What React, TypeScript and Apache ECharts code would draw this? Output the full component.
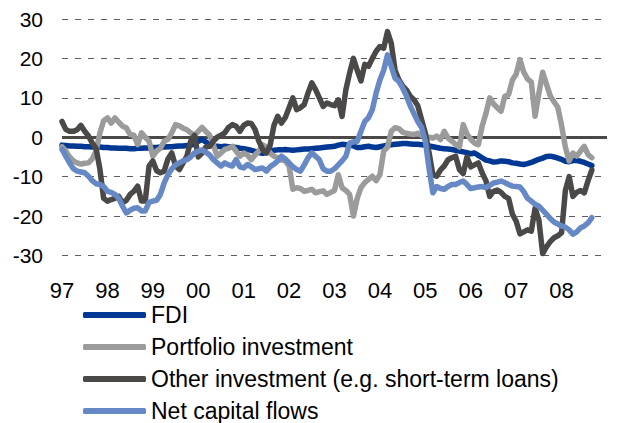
import React, { useEffect, useRef } from "react";
import * as echarts from "echarts";

const startYear = 1997;
const xTickLabels = ["97", "98", "99", "00", "01", "02", "03", "04", "05", "06", "07", "08"];
const yTicks = [-30, -20, -10, 0, 10, 20, 30];
const seriesNames = [
  "FDI",
  "Portfolio investment",
  "Other investment (e.g. short-term loans)",
  "Net capital flows",
];

// Monthly values, Jan 1997 – Sep 2008
const fdi = [
  -2.0, -2.1, -2.2, -2.2, -2.3, -2.3, -2.4, -2.4, -2.5, -2.5, -2.5, -2.6,
  -2.6, -2.7, -2.7, -2.8, -2.8, -2.8, -2.9, -2.9, -2.8, -2.8, -2.7, -2.7,
  -2.6, -2.6, -2.5, -2.5, -2.4, -2.4, -2.3, -2.2, -2.2, -2.1, -2.0, -1.8,
  -1.0, -0.5, -1.2, -2.0, -2.2, -2.3, -2.4, -2.3, -2.4, -2.5, -2.6, -2.8,
  -2.9, -3.1, -3.3, -3.6, -3.9, -4.1, -3.8, -3.5, -3.3, -3.2, -3.2, -3.1,
  -3.2, -3.3, -3.2, -3.1, -3.0, -3.0, -2.9, -2.8, -2.7, -2.6, -2.5, -2.4,
  -2.3, -2.0, -1.8, -1.9, -2.0, -2.2, -2.6, -2.6, -2.4, -2.3, -2.5, -2.6,
  -2.4, -2.2, -2.0, -1.9, -1.8, -1.7, -1.6, -1.6, -1.7, -1.8, -1.8, -1.9,
  -2.0, -2.2, -2.4, -2.6, -2.8, -2.9, -3.0, -3.1, -3.3, -3.5, -3.7, -3.9,
  -4.2, -4.0, -4.6, -5.2, -5.8, -6.0, -6.3, -6.2, -6.0, -6.1, -6.2, -6.5,
  -6.6, -6.8, -6.9, -6.7, -6.4, -6.0, -5.6, -5.3, -4.9, -4.8, -5.0, -5.3,
  -5.6, -6.1, -6.2, -5.9, -5.9, -6.1, -6.4, -6.8, -7.2,
];

const portfolio = [
  -2.4, -3.5, -5.0, -6.0, -6.5, -6.8, -6.6, -6.5, -5.5, -3.5, 1.0, 4.2,
  4.9, 3.6, 4.9, 3.8, 2.8, 2.4, 0.7, 0.5, -1.9, 1.1, 0.0, -1.0,
  -4.8, -3.5, -2.8, -1.0, -0.5, 1.1, 3.2, 2.9, 2.3, 1.9, 1.1, 0.5,
  1.5, 2.5, 1.5, 0.5, -2.0, -4.8, -4.0, -3.1, -2.8, -2.3, -3.5, -4.8,
  -4.0, -4.5, -5.7, -4.5, -3.5, -1.9, -2.5, -4.0, -4.8, -5.2, -5.8, -6.0,
  -7.3, -13.2, -12.8, -13.0, -13.7, -13.5, -13.2, -14.1, -13.8, -13.6, -14.5, -14.0,
  -13.5, -9.5, -12.8, -13.5, -14.5, -20.0, -15.5, -12.8, -11.5, -10.7, -9.9, -11.0,
  -9.5, -3.5, -2.5, 1.5, 2.4, 2.2, 1.3, 1.0, 0.8, 0.7, 1.0, 0.5,
  0.3, 0.0, -0.2, 0.3, -0.6, 1.5, -0.2, -1.0, -1.8, -2.5, 3.2, 0.8,
  -0.5, -1.5, -1.9, 2.8, 6.0, 10.0, 8.5, 7.5, 6.6, 10.4, 10.8, 14.5,
  16.0, 19.7, 16.5, 14.8, 14.0, 5.3, 11.2, 16.5, 13.5, 10.5, 9.0, 7.6,
  3.0, -2.5, -6.0, -4.0, -4.8, -3.5, -2.3, -4.4, -5.2,
];

const other = [
  4.0, 2.0, 1.5, 1.5, 1.9, 3.0, 1.5, 0.3, -1.5, -2.8, -8.0, -15.5,
  -16.2, -15.8, -15.5, -15.0, -16.6, -16.0, -14.5, -13.7, -12.4, -16.2, -16.2, -7.3,
  -6.0, -8.5, -9.0, -8.6, -5.5, -4.0, -7.3, -8.2, -6.5, -4.8, -1.0, 0.5,
  -5.0, -4.0, -2.5, -2.3, -1.0, 0.0, 0.5, 1.1, 2.5, 3.2, 2.8, 1.5,
  3.0, 3.6, 3.5, 2.0, -1.0, -3.1, -4.0, -2.0, 3.0, 5.3, 3.6, 5.0,
  7.5, 10.0, 7.0, 7.5, 8.3, 11.2, 13.8, 12.1, 10.0, 7.8, 8.7, 8.3,
  8.0, 9.5, 5.3, 12.0, 16.3, 20.0, 17.0, 14.3, 18.5, 18.0, 20.0, 21.8,
  23.0, 22.6, 26.8, 23.8, 17.0, 14.6, 13.0, 12.0, 10.4, 9.5, 8.0, 4.5,
  1.0, -4.0, -9.5, -9.9, -8.3, -7.3, -5.7, -5.2, -4.8, -8.2, -9.2, -5.0,
  -7.5, -7.0, -6.5, -9.0, -11.0, -15.0, -13.7, -13.4, -14.0, -15.0, -15.5, -19.5,
  -21.3, -24.5, -24.0, -23.5, -23.8, -18.0, -21.0, -29.5, -27.8, -26.5, -25.5, -25.0,
  -24.2, -13.5, -10.0, -15.0, -14.0, -13.5, -14.1, -11.0, -8.3,
];

const netFlows = [
  -3.1, -4.8, -6.5, -8.0, -8.6, -8.8, -9.0, -9.9, -11.0, -11.8, -12.0, -12.5,
  -13.7, -14.0, -14.5, -15.5, -17.5, -19.2, -18.5, -18.0, -17.9, -18.7, -18.7, -16.5,
  -16.2, -16.0, -14.5, -11.6, -9.5, -8.0, -7.0, -6.5, -6.0, -5.7, -5.0, -4.0,
  -3.5, -3.2, -3.8, -4.5, -5.7, -6.5, -7.3, -6.5, -7.0, -7.3, -5.7, -7.5,
  -7.8, -6.9, -7.5, -8.2, -8.0, -7.8, -8.6, -7.5, -6.8, -6.0, -4.8, -5.5,
  -6.5, -7.5, -8.2, -8.6, -7.0, -5.2, -4.0, -4.8, -5.7, -8.0, -8.6, -8.6,
  -8.0, -7.0, -6.0, -4.8, -1.5, -1.2, -1.0, 1.5, 4.0, 5.0, 7.0, 11.2,
  14.5, 17.0, 20.9, 18.0, 15.0, 14.2, 12.5, 10.5, 8.0, 6.0, 4.0, 2.5,
  -1.0, -8.0, -14.1, -12.5, -13.0, -13.2, -12.5, -12.0, -12.0, -11.5, -11.1, -12.0,
  -13.0, -12.8, -12.6, -12.5, -12.8, -12.2, -11.6, -11.4, -11.1, -11.5, -12.0, -12.4,
  -12.5, -12.6, -13.8, -15.5, -16.2, -17.0, -17.5, -18.5, -19.5, -20.6, -21.5, -22.0,
  -22.5, -22.8, -23.5, -24.6, -24.0, -23.0, -22.5, -21.7, -20.4,
];

const colors = ["#003893", "#9b9b9b", "#4b4848", "#6689c5"];
const FONT = "'Liberation Sans', Arial, Helvetica, sans-serif";

function toPairs(values: number[]) {
  return values.map((v, i) => [startYear + i / 12, v]);
}

export default function App() {
  const ref = useRef<HTMLDivElement>(null);

  useEffect(() => {
    if (!ref.current) return;
    const chart = echarts.init(ref.current, null, { renderer: "svg" });
    const all = [fdi, portfolio, other, netFlows];
    chart.setOption({
      animation: false,
      backgroundColor: "#ffffff",
      textStyle: { fontFamily: FONT },
      grid: { left: 62, right: 11, top: 19, height: 236.5, containLabel: false },
      legend: seriesNames.map((name, i) => ({
        orient: "vertical",
        left: 83,
        top: 302 + i * 32,
        padding: 0,
        itemWidth: 63,
        itemHeight: 6,
        icon: "roundRect",
        data: [name],
        textStyle: { fontSize: 23, lineHeight: 26, color: "#000", fontFamily: FONT },
      })),
      xAxis: {
        type: "value",
        min: startYear,
        max: startYear + xTickLabels.length,
        interval: 1,
        axisLine: { show: false },
        axisTick: { show: false },
        splitLine: { show: false },
        axisLabel: {
          showMaxLabel: false,
          fontSize: 22,
          color: "#000",
          margin: 24,
          fontFamily: FONT,
          formatter: (v: number) => xTickLabels[Math.round(v) - startYear] ?? "",
        },
      },
      yAxis: {
        type: "value",
        min: yTicks[0],
        max: yTicks[yTicks.length - 1],
        interval: 10,
        axisLine: { show: false },
        axisTick: { show: false },
        axisLabel: { fontSize: 21, color: "#000", margin: 19, fontFamily: FONT },
        splitLine: { show: true, lineStyle: { color: "#5f5f5f", width: 1, type: [6, 7] } },
      },
      series: all.map((vals, i) => ({
        name: seriesNames[i],
        type: "line",
        data: toPairs(vals),
        showSymbol: false,
        symbol: "none",
        color: colors[i],
        lineStyle: { color: colors[i], width: 5.5, cap: "round", join: "round" },
        z: 3 + i,
        markLine:
          i === 0
            ? {
                silent: true,
                symbol: "none",
                label: { show: false },
                lineStyle: { color: "#4b4848", width: 3, type: "solid" },
                data: [{ yAxis: 0 }],
                z: 1,
              }
            : undefined,
      })),
    });
    return () => chart.dispose();
  }, []);

  return (
    <div
      ref={ref}
      style={{ position: "absolute", left: 0, top: 0, width: 618, height: 423 }}
    />
  );
}
